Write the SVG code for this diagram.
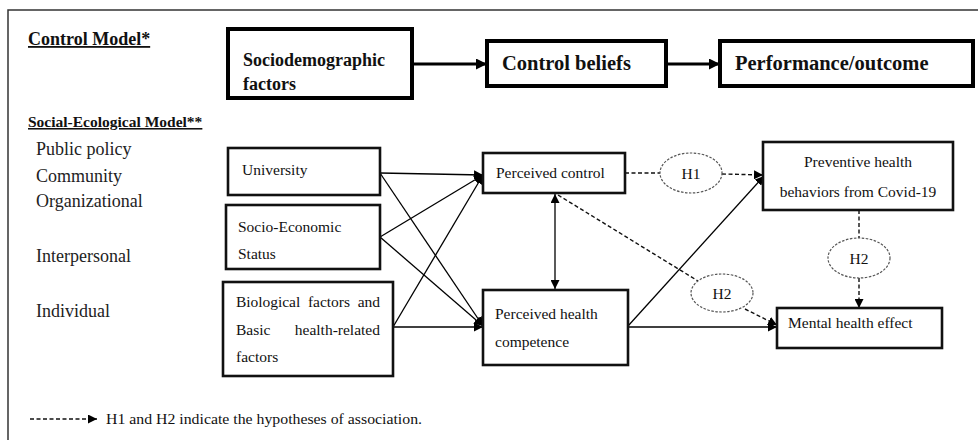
<svg xmlns="http://www.w3.org/2000/svg" width="978" height="440" viewBox="0 0 978 440" font-family="'Liberation Serif', 'Times New Roman', 'DejaVu Serif', serif">
<defs>
<style>
.bg{fill:#fff}
.frame{fill:none;stroke:#333;stroke-width:1.5}
.hbox{fill:#fff;stroke:#000;stroke-width:4}
.box{fill:#fff;stroke:#111;stroke-width:2.6}
.ell{fill:#fff;stroke:#555;stroke-width:1.2;stroke-dasharray:2.5 1.5}
text{font-family:'Liberation Serif','Times New Roman','DejaVu Serif',serif;fill:#111}
.hb{font-weight:bold;font-size:20.5px}
.sb{font-weight:bold;font-size:18px}
.nt{font-size:15.5px}
.lt{font-size:18px;fill:#222}
.c{fill:none;stroke:#000;stroke-width:1.3}
.ct{fill:none;stroke:#000;stroke-width:3}
.cd{fill:none;stroke:#111;stroke-width:1.4;stroke-dasharray:4 2.5}
</style>
<marker id="ah" viewBox="0 0 10 10" refX="10" refY="5" markerWidth="9" markerHeight="9" markerUnits="userSpaceOnUse" orient="auto-start-reverse">
<path d="M0,0 L10,5 L0,10 z" fill="#000"/>
</marker>
<marker id="ahb" viewBox="0 0 10 10" refX="10" refY="5" markerWidth="11" markerHeight="11" markerUnits="userSpaceOnUse" orient="auto">
<path d="M0,0 L10,5 L0,10 z" fill="#000"/>
</marker>
</defs>
<rect class="bg" x="0" y="0" width="978" height="440"/>
<path class="frame" d="M8,440 L8,10 L978,10"/>

<g id="headings">
<text class="sb" x="28" y="45" text-decoration="underline">Control Model*</text>
<text x="28" y="127" font-weight="bold" font-size="15.5px" text-decoration="underline">Social-Ecological Model**</text>
</g>

<g id="levels">
<text class="lt" x="36" y="155">Public policy</text>
<text class="lt" x="36" y="182">Community</text>
<text class="lt" x="36" y="207">Organizational</text>
<text class="lt" x="36" y="262">Interpersonal</text>
<text class="lt" x="36" y="317">Individual</text>
</g>

<g id="connectors">
<line class="ct" x1="412" y1="64" x2="487" y2="64" marker-end="url(#ahb)"/>
<line class="ct" x1="666" y1="64" x2="720" y2="64" marker-end="url(#ahb)"/>
<line class="c" x1="380" y1="173" x2="483" y2="175" marker-end="url(#ah)"/>
<line class="c" x1="380" y1="173" x2="483" y2="326" marker-end="url(#ah)"/>
<line class="c" x1="380" y1="237" x2="483" y2="175" marker-end="url(#ah)"/>
<line class="c" x1="380" y1="237" x2="483" y2="326" marker-end="url(#ah)"/>
<line class="c" x1="393" y1="327" x2="483" y2="175" marker-end="url(#ah)"/>
<line class="c" x1="393" y1="327" x2="483" y2="327" marker-end="url(#ah)"/>
<line class="c" x1="555" y1="194" x2="555" y2="289" marker-start="url(#ah)" marker-end="url(#ah)"/>
<line class="c" x1="628" y1="326" x2="764" y2="176" marker-end="url(#ah)"/>
<line class="c" x1="628" y1="327" x2="777" y2="327" marker-end="url(#ah)"/>
<line class="cd" x1="625" y1="173" x2="660" y2="173"/>
<line class="cd" x1="722" y1="174" x2="763" y2="175" marker-end="url(#ah)"/>
<line class="cd" x1="558" y1="195" x2="698" y2="281"/>
<line class="cd" x1="745" y1="309" x2="777" y2="325" marker-end="url(#ah)"/>
<line class="cd" x1="859" y1="210" x2="859" y2="238"/>
<line class="cd" x1="859" y1="278" x2="859" y2="308" marker-end="url(#ah)"/>
</g>

<g id="n-sociodemographic">
<rect class="hbox" x="228" y="29" width="184" height="69"/>
<text class="sb" x="243" y="66">Sociodemographic</text>
<text class="sb" x="243" y="90">factors</text>
</g>
<g id="n-control-beliefs">
<rect class="hbox" x="487" y="41" width="179" height="45"/>
<text class="hb" x="502" y="70">Control beliefs</text>
</g>
<g id="n-performance">
<rect class="hbox" x="720" y="41" width="253" height="45"/>
<text class="hb" x="735" y="70">Performance/outcome</text>
</g>

<g id="n-university">
<rect class="box" x="228" y="148" width="152" height="47"/>
<text class="nt" x="242" y="175">University</text>
</g>
<g id="n-ses">
<rect class="box" x="226" y="205" width="154" height="64"/>
<text class="nt" x="238" y="232">Socio-Economic</text>
<text class="nt" x="238" y="259">Status</text>
</g>
<g id="n-biological">
<rect class="box" x="223" y="282" width="170" height="94"/>
<text class="nt" x="236" y="307" textLength="144" lengthAdjust="spacing" word-spacing="4px">Biological factors and</text>
<text class="nt"><tspan x="236" y="335">Basic</tspan><tspan x="380" y="335" text-anchor="end">health-related</tspan></text>
<text class="nt" x="236" y="362">factors</text>
</g>
<g id="n-perceived-control">
<rect class="box" x="483" y="153" width="142" height="40"/>
<text class="nt" x="496" y="178">Perceived control</text>
</g>
<g id="n-perceived-health">
<rect class="box" x="483" y="290" width="145" height="75"/>
<text class="nt" x="495" y="319">Perceived health</text>
<text class="nt" x="495" y="347">competence</text>
</g>
<g id="n-preventive">
<rect class="box" x="763" y="142" width="190" height="68"/>
<text class="nt" x="858" y="167" text-anchor="middle">Preventive health</text>
<text class="nt" x="858" y="197" text-anchor="middle">behaviors from Covid-19</text>
</g>
<g id="n-mental">
<rect class="box" x="777" y="308" width="165" height="40"/>
<text class="nt" x="788" y="328">Mental health effect</text>
</g>
<g id="n-h1">
<ellipse class="ell" cx="691" cy="173" rx="31" ry="20"/>
<text class="nt" x="691" y="179" text-anchor="middle">H1</text>
</g>
<g id="n-h2a">
<ellipse class="ell" cx="722" cy="293" rx="31" ry="19"/>
<text class="nt" x="722" y="299" text-anchor="middle">H2</text>
</g>
<g id="n-h2b">
<ellipse class="ell" cx="859" cy="258" rx="31" ry="20"/>
<text class="nt" x="859" y="264" text-anchor="middle">H2</text>
</g>

<g id="legend">
<line class="cd" x1="30" y1="419" x2="97" y2="419" stroke-dasharray="3 1.5" marker-end="url(#ah)"/>
<text x="106" y="424" font-size="15.5px" textLength="316" lengthAdjust="spacingAndGlyphs">H1 and H2 indicate the hypotheses of association.</text>
</g>
</svg>
